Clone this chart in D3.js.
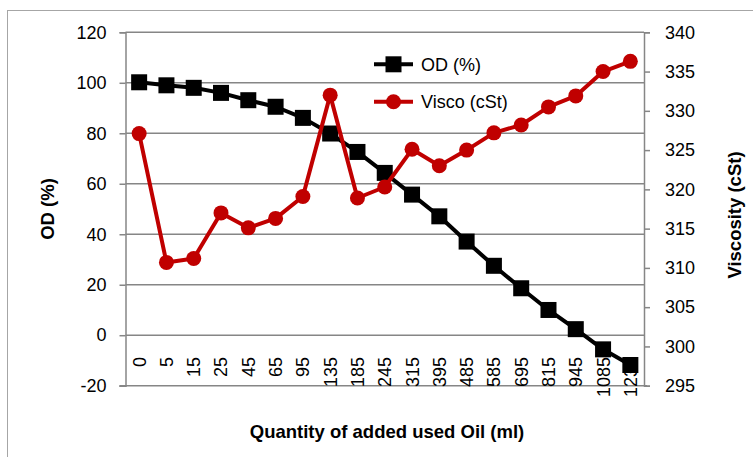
<!DOCTYPE html>
<html><head><meta charset="utf-8">
<script src="https://cdn.jsdelivr.net/npm/d3@7"></script>
<style>html,body{margin:0;padding:0;background:#fff;}svg{display:block;}</style>
</head><body>
<svg id="chart" width="753" height="457"></svg>
<script>
const categories = ["0","5","15","25","45","65","95","135","185","245","315","395","485","585","695","815","945","1085","1235"];
const odValues = [100.2,99.0,98.0,96.0,93.1,90.5,86.1,79.9,72.6,64.3,55.7,47.1,37.1,27.5,18.6,10.0,2.4,-5.6,-11.8];
const viscoValues = [327.1,310.7,311.2,317.0,315.1,316.3,319.1,332.0,318.9,320.3,325.1,323.0,325.0,327.2,328.2,330.5,331.9,335.0,336.3];
const leftTicks = [-20,0,20,40,60,80,100,120];
const rightTicks = [295,300,305,310,315,320,325,330,335,340];
const seriesNames = ["OD (%)","Visco (cSt)"];

const svg = d3.select("#chart");
const font = "'Liberation Sans', Arial, sans-serif";
const L = 125.5, R = 644, T = 32.3, B = 385.7;
const grid = "#868686";

svg.append("rect").attr("x",7.5).attr("y",10.5).attr("width",800).attr("height",500)
  .attr("fill","#fff").attr("stroke","#a6a6a6").attr("stroke-width",1);

const x = d3.scaleBand().domain(categories).range([L,R]);
const yL = d3.scaleLinear().domain([-20,120]).range([B,T]);
const yR = d3.scaleLinear().domain([295,340]).range([B,T]);

// gridlines
svg.append("g").selectAll("line").data(leftTicks.filter(d=>d>-20)).join("line")
  .attr("x1",L).attr("x2",R).attr("y1",d=>yL(d)).attr("y2",d=>yL(d))
  .attr("stroke",grid).attr("stroke-width",1.5);

// left axis
const gl = svg.append("g").attr("transform",`translate(${L},0)`)
  .call(d3.axisLeft(yL).tickValues(leftTicks).tickFormat(d=>String(d)).tickSize(6).tickPadding(13));
gl.select(".domain").attr("stroke",grid).attr("stroke-width",1.5);
gl.selectAll(".tick line").attr("stroke",grid).attr("stroke-width",1.5);
gl.selectAll("text").attr("font-family",font).attr("font-size",18).attr("fill","#000");

// right axis
const gr = svg.append("g").attr("transform",`translate(${R},0)`)
  .call(d3.axisRight(yR).tickValues(rightTicks).tickFormat(d=>String(d)).tickSize(6).tickPadding(15));
gr.select(".domain").attr("stroke",grid).attr("stroke-width",1.5);
gr.selectAll(".tick line").attr("stroke",grid).attr("stroke-width",1.5);
gr.selectAll("text").attr("font-family",font).attr("font-size",18).attr("fill","#000");

// bottom axis line
svg.append("line").attr("x1",L-6).attr("x2",R+3).attr("y1",B).attr("y2",B)
  .attr("stroke",grid).attr("stroke-width",1.5);

// category labels
svg.append("g").selectAll("text").data(categories).join("text")
  .attr("transform",d=>`translate(${x(d)+x.bandwidth()/2},357) rotate(-90)`)
  .attr("text-anchor","end").attr("dy","0.36em")
  .attr("font-family",font).attr("font-size",18).attr("fill","#000")
  .text(d=>d);

// series
const cx = d=>x(d)+x.bandwidth()/2;
const odLine = d3.line().x((d,i)=>cx(categories[i])).y(d=>yL(d));
const viLine = d3.line().x((d,i)=>cx(categories[i])).y(d=>yR(d));

svg.append("path").attr("d",odLine(odValues)).attr("fill","none").attr("stroke","#000").attr("stroke-width",4).attr("stroke-linejoin","round");
svg.append("g").selectAll("rect").data(odValues).join("rect")
  .attr("x",(d,i)=>cx(categories[i])-8).attr("y",d=>yL(d)-8).attr("width",16).attr("height",16).attr("fill","#000");

svg.append("path").attr("d",viLine(viscoValues)).attr("fill","none").attr("stroke","#c00000").attr("stroke-width",4).attr("stroke-linejoin","round");
svg.append("g").selectAll("circle").data(viscoValues).join("circle")
  .attr("cx",(d,i)=>cx(categories[i])).attr("cy",d=>yR(d)).attr("r",7.5).attr("fill","#c00000");

// legend
const lg = svg.append("g");
const legY = [64.3, 101.7];
lg.append("line").attr("x1",374).attr("x2",413).attr("y1",legY[0]).attr("y2",legY[0]).attr("stroke","#000").attr("stroke-width",4);
lg.append("rect").attr("x",393.5-8).attr("y",legY[0]-8).attr("width",16).attr("height",16).attr("fill","#000");
lg.append("line").attr("x1",374).attr("x2",413).attr("y1",legY[1]).attr("y2",legY[1]).attr("stroke","#c00000").attr("stroke-width",4);
lg.append("circle").attr("cx",393.5).attr("cy",legY[1]).attr("r",7.5).attr("fill","#c00000");
lg.selectAll("text").data(seriesNames).join("text")
  .attr("x",421).attr("y",(d,i)=>legY[i]).attr("dy","0.36em")
  .attr("font-family",font).attr("font-size",18).attr("fill","#000").text(d=>d);

// axis titles
svg.append("text").attr("transform",`translate(47,${(T+B)/2}) rotate(-90)`)
  .attr("text-anchor","middle").attr("dy","0.36em")
  .attr("font-family",font).attr("font-size",18.5).attr("font-weight","bold").text("OD (%)");
svg.append("text").attr("transform",`translate(734,215) rotate(-90)`)
  .attr("text-anchor","middle").attr("dy","0.36em")
  .attr("font-family",font).attr("font-size",18.5).attr("font-weight","bold").text("Viscosity (cSt)");
svg.append("text").attr("x",387).attr("y",438).attr("text-anchor","middle")
  .attr("font-family",font).attr("font-size",18.5).attr("font-weight","bold").text("Quantity of added used Oil (ml)");
</script>
</body></html>
